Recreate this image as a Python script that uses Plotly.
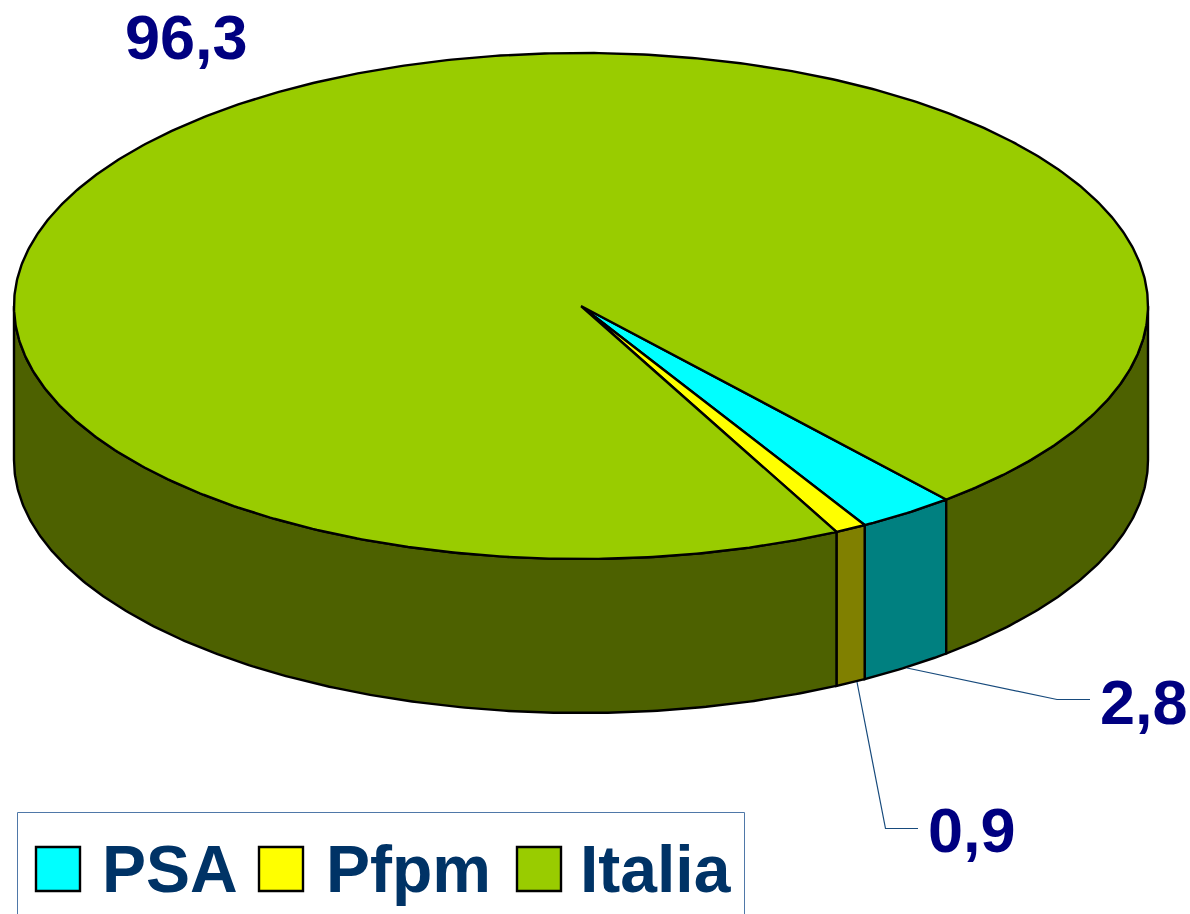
import numpy as np
import plotly.graph_objects as go

categories = ["PSA", "Pfpm", "Italia"]
values = [2.8, 0.9, 96.3]
value_labels = ["2,8", "0,9", "96,3"]
top_colors = ["#00FFFF", "#FFFF00", "#99CC00"]
side_colors = ["#008080", "#808000", "#4D6100"]

CX, CY, RX, RY, DEPTH = 581, 306, 567, 253, 154
START_DEG = 49.9
LINE = dict(color="black", width=2.4)
FONT = "Liberation Sans"


def rim(a0, a1, drop=0.0):
    n = max(2, int(abs(a1 - a0) / 0.5) + 1)
    t = np.radians(np.linspace(a0, a1, n))
    return CX + RX * np.cos(t), CY + RY * np.sin(t) + drop


def wall(a0, a1, color):
    x0, y0 = rim(a0, a1)
    x1, y1 = rim(a1, a0, DEPTH)
    return go.Scatter(
        x=np.r_[x0, x1, x0[0]], y=np.r_[y0, y1, y0[0]], mode="lines",
        fill="toself", fillcolor=color, line=LINE, hoverinfo="skip", showlegend=False,
    )


total = sum(values)
edges = [START_DEG]
for v in values:
    edges.append(edges[-1] + v / total * 360)

fig = go.Figure()

# Visible part of the side wall (screen angles 0..180 degrees)
for i, color in enumerate(side_colors):
    a0, a1 = edges[i], edges[i + 1]
    if a1 <= 180:
        fig.add_trace(wall(a0, a1, color))
    else:
        fig.add_trace(wall(a0, 180, color))
        fig.add_trace(wall(360, a1, color))

# Top face
for i, color in enumerate(top_colors):
    x, y = rim(edges[i], edges[i + 1])
    fig.add_trace(go.Scatter(
        x=np.r_[CX, x, CX], y=np.r_[CY, y, CY], mode="lines", fill="toself",
        fillcolor=color, line=LINE, hoverinfo="skip", showlegend=False,
    ))

# Leader lines
for lx, ly in (([907, 1057, 1090], [668, 699.5, 699.5]), ([857, 885.5, 918], [682, 828.5, 828.5])):
    fig.add_trace(go.Scatter(x=lx, y=ly, mode="lines", line=dict(color="#174A7C", width=1.2),
                             hoverinfo="skip", showlegend=False))

# Legend swatches
for sx, color in zip([58, 281, 539], top_colors):
    fig.add_trace(go.Scatter(
        x=[sx], y=[869], mode="markers", hoverinfo="skip", showlegend=False,
        marker=dict(symbol="square", size=44, color=color, line=LINE),
    ))

annotations = []
for text, x, y in zip(value_labels, [1143.5, 972, 186], [702, 830, 37]):
    annotations.append(dict(
        x=x, y=y, text=text, showarrow=False, xanchor="center", yanchor="middle",
        font=dict(family=FONT, size=63, weight=700, color="#000080"),
    ))
for text, x in zip(categories, [169.5, 408.5, 656]):
    annotations.append(dict(
        x=x, y=869, text=text, showarrow=False, xanchor="center", yanchor="middle",
        font=dict(family=FONT, size=66, weight=700, color="#003366"),
    ))

fig.update_layout(
    width=1190, height=914, margin=dict(l=0, r=0, t=0, b=0),
    paper_bgcolor="white", plot_bgcolor="white", showlegend=False,
    xaxis=dict(range=[0, 1190], visible=False, fixedrange=True),
    yaxis=dict(range=[914, 0], visible=False, fixedrange=True),
    annotations=annotations,
    shapes=[dict(type="rect", x0=17.5, x1=744.5, y0=812.5, y1=930,
                 line=dict(color="#4F78A8", width=1), fillcolor="rgba(0,0,0,0)", layer="below")],
)

fig.write_html(
    "out.html",
    config={"displayModeBar": False},
    post_script="document.body.style.margin='0';document.body.style.overflow='hidden';",
)
